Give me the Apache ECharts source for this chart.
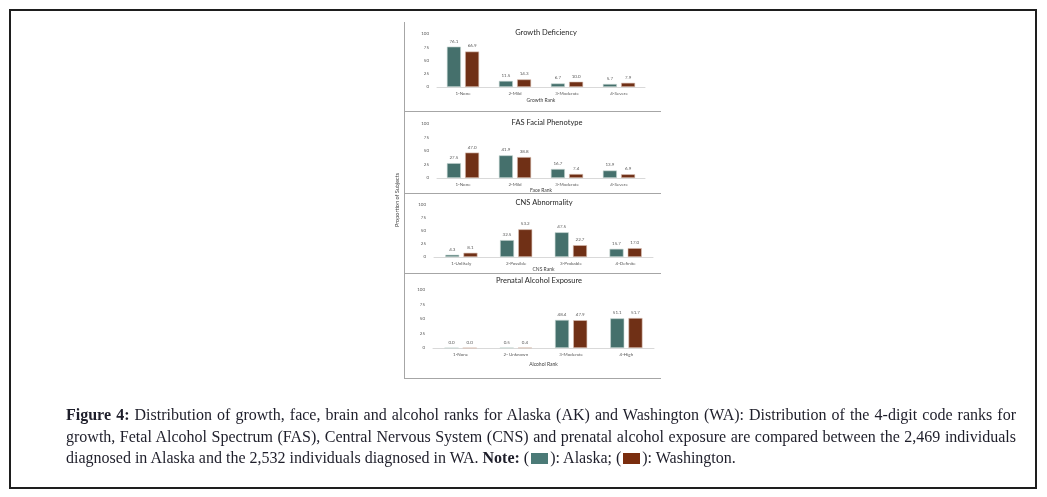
<!DOCTYPE html>
<html>
<head>
<meta charset="utf-8">
<script src="https://cdn.jsdelivr.net/npm/echarts@6/dist/echarts.min.js"></script>
<style>
  html, body { margin: 0; padding: 0; background: #fff; }
  body { width: 1047px; height: 497px; position: relative; overflow: hidden; }
  #frame { position: absolute; left: 9px; top: 9px; width: 1024px; height: 476px; border: 2px solid #1e1e1e; }
  #chart { position: absolute; left: 0; top: 0; width: 1047px; height: 497px; }
  #caption { position: absolute; left: 66px; top: 404px; width: 950px; font-family: "Liberation Serif", serif; font-size: 16px; color: #1e1e2a; line-height: 21.5px; }
  #caption .ln { white-space: nowrap; }
  #caption .j { text-align: justify; text-align-last: justify; }
  .sw { display: inline-block; width: 17px; height: 11px; vertical-align: -1px; margin: 0 2px; }
</style>
</head>
<body>
<div id="frame"></div>
<div id="chart"></div>
<div id="caption">
  <div class="ln j"><b>Figure 4:</b> Distribution of growth, face, brain and alcohol ranks for Alaska (AK) and Washington (WA): Distribution of the 4-digit code ranks for</div>
  <div class="ln j">growth, Fetal Alcohol Spectrum (FAS), Central Nervous System (CNS) and prenatal alcohol exposure are compared between the 2,469 individuals</div>
  <div class="ln">diagnosed in Alaska and the 2,532 individuals diagnosed in WA. <b>Note:</b> (<span class="sw" style="background:#4b7a77"></span>): Alaska; (<span class="sw" style="background:#7a2d0e"></span>): Washington.</div>
</div>
<script>
// ---- data ----
const panelTitles = ['Growth Deficiency', 'FAS Facial Phenotype', 'CNS Abnormality', 'Prenatal Alcohol Exposure'];
const axisNames = ['Growth Rank', 'Face Rank', 'CNS Rank', 'Alcohol Rank'];
const growthCats = ['1-None', '2-Mild', '3-Moderate', '4-Severe'];
const faceCats = ['1-None', '2-Mild', '3-Moderate', '4-Severe'];
const cnsCats = ['1-Unlikely', '2-Possible', '3-Probable', '4-Definite'];
const alcoholCats = ['1-None', '2- Unknown', '3-Moderate', '4-High'];
const growthAK = [76.1, 11.5, 6.7, 5.7];
const growthWA = [66.9, 14.3, 10.0, 7.9];
const faceAK = [27.5, 41.9, 16.7, 13.9];
const faceWA = [47.0, 38.8, 7.4, 6.9];
const cnsAK = [4.3, 32.5, 47.5, 15.7];
const cnsWA = [8.1, 53.2, 22.7, 17.0];
const alcoholAK = [0.0, 0.5, 48.4, 51.1];
const alcoholWA = [0.0, 0.4, 47.9, 51.7];
const yTicks = [0, 25, 50, 75, 100];
const yLabel = 'Proportion of Subjects';
const seriesNames = ['Alaska', 'Washington'];

const cats = [growthCats, faceCats, cnsCats, alcoholCats];
const akData = [growthAK, faceAK, cnsAK, alcoholAK];
const waData = [growthWA, faceWA, cnsWA, alcoholWA];

// ---- layout ----
const grids = [
  { left: 437, top: 34, width: 208, height: 53 },
  { left: 437, top: 124, width: 208, height: 54 },
  { left: 434, top: 205, width: 219, height: 52 },
  { left: 433, top: 290, width: 221, height: 58 }
];
const titlePos = [[546, 33], [547, 123], [544, 203], [539, 281]];
const nameGaps = [11, 10, 10, 14];
const COL_AK = '#45706c', COL_WA = '#703016';
const FONT = 'Lato, "Open Sans", sans-serif';

const chart = echarts.init(document.getElementById('chart'), null, { renderer: 'canvas' });
const xAxes = [], yAxes = [], series = [], graphics = [];
for (let i = 0; i < 4; i++) {
  xAxes.push({
    type: 'category', gridIndex: i, data: cats[i],
    axisLine: { lineStyle: { color: '#d9d9d9', width: 1 } },
    axisTick: { show: false },
    axisLabel: { color: '#595959', fontSize: 4.5, fontFamily: FONT, margin: 4, interval: 0 },
    name: axisNames[i], nameLocation: 'middle', nameGap: nameGaps[i],
    nameTextStyle: { color: '#404040', fontSize: 5, fontFamily: FONT }
  });
  yAxes.push({
    type: 'value', gridIndex: i, min: 0, max: 100, interval: 25,
    axisLine: { show: false }, axisTick: { show: false }, splitLine: { show: false },
    axisLabel: { color: '#595959', fontSize: 4.5, fontFamily: FONT, margin: 8,
      formatter: v => (yTicks.indexOf(v) >= 0 ? String(v) : '') }
  });
  [akData[i], waData[i]].forEach((d, k) => {
    series.push({
      type: 'bar', name: seriesNames[k], xAxisIndex: i, yAxisIndex: i, data: d,
      barWidth: 14, barGap: '30%',
      itemStyle: { color: k === 0 ? COL_AK : COL_WA, borderColor: k === 0 ? '#c9d6d4' : '#d9bfb3', borderWidth: 0.6 },
      label: { show: true, position: 'top', distance: 3, color: '#595959', fontSize: 4.5, fontFamily: FONT,
        formatter: p => p.value.toFixed(1) }
    });
  });
  graphics.push({
    type: 'text', x: titlePos[i][0], y: titlePos[i][1],
    style: { text: panelTitles[i], font: '7.5px ' + FONT, fill: '#262626', textAlign: 'center', textVerticalAlign: 'middle' }
  });
}
// frame lines
const lineStyle = { stroke: '#a6a6a6', lineWidth: 1 };
graphics.push({ type: 'line', shape: { x1: 404.5, y1: 22, x2: 404.5, y2: 379 }, style: lineStyle });
[111.5, 193.5, 273.5, 378.5].forEach(y => {
  graphics.push({ type: 'line', shape: { x1: 404.5, y1: y, x2: 661, y2: y }, style: lineStyle });
});
graphics.push({
  type: 'text', x: 397, y: 200, rotation: Math.PI / 2,
  style: { text: yLabel, font: '5.5px ' + FONT, fill: '#404040', textAlign: 'center', textVerticalAlign: 'middle' }
});

chart.setOption({
  animation: false,
  grid: grids,
  xAxis: xAxes,
  yAxis: yAxes,
  series: series,
  graphic: graphics
});
</script>
</body>
</html>
